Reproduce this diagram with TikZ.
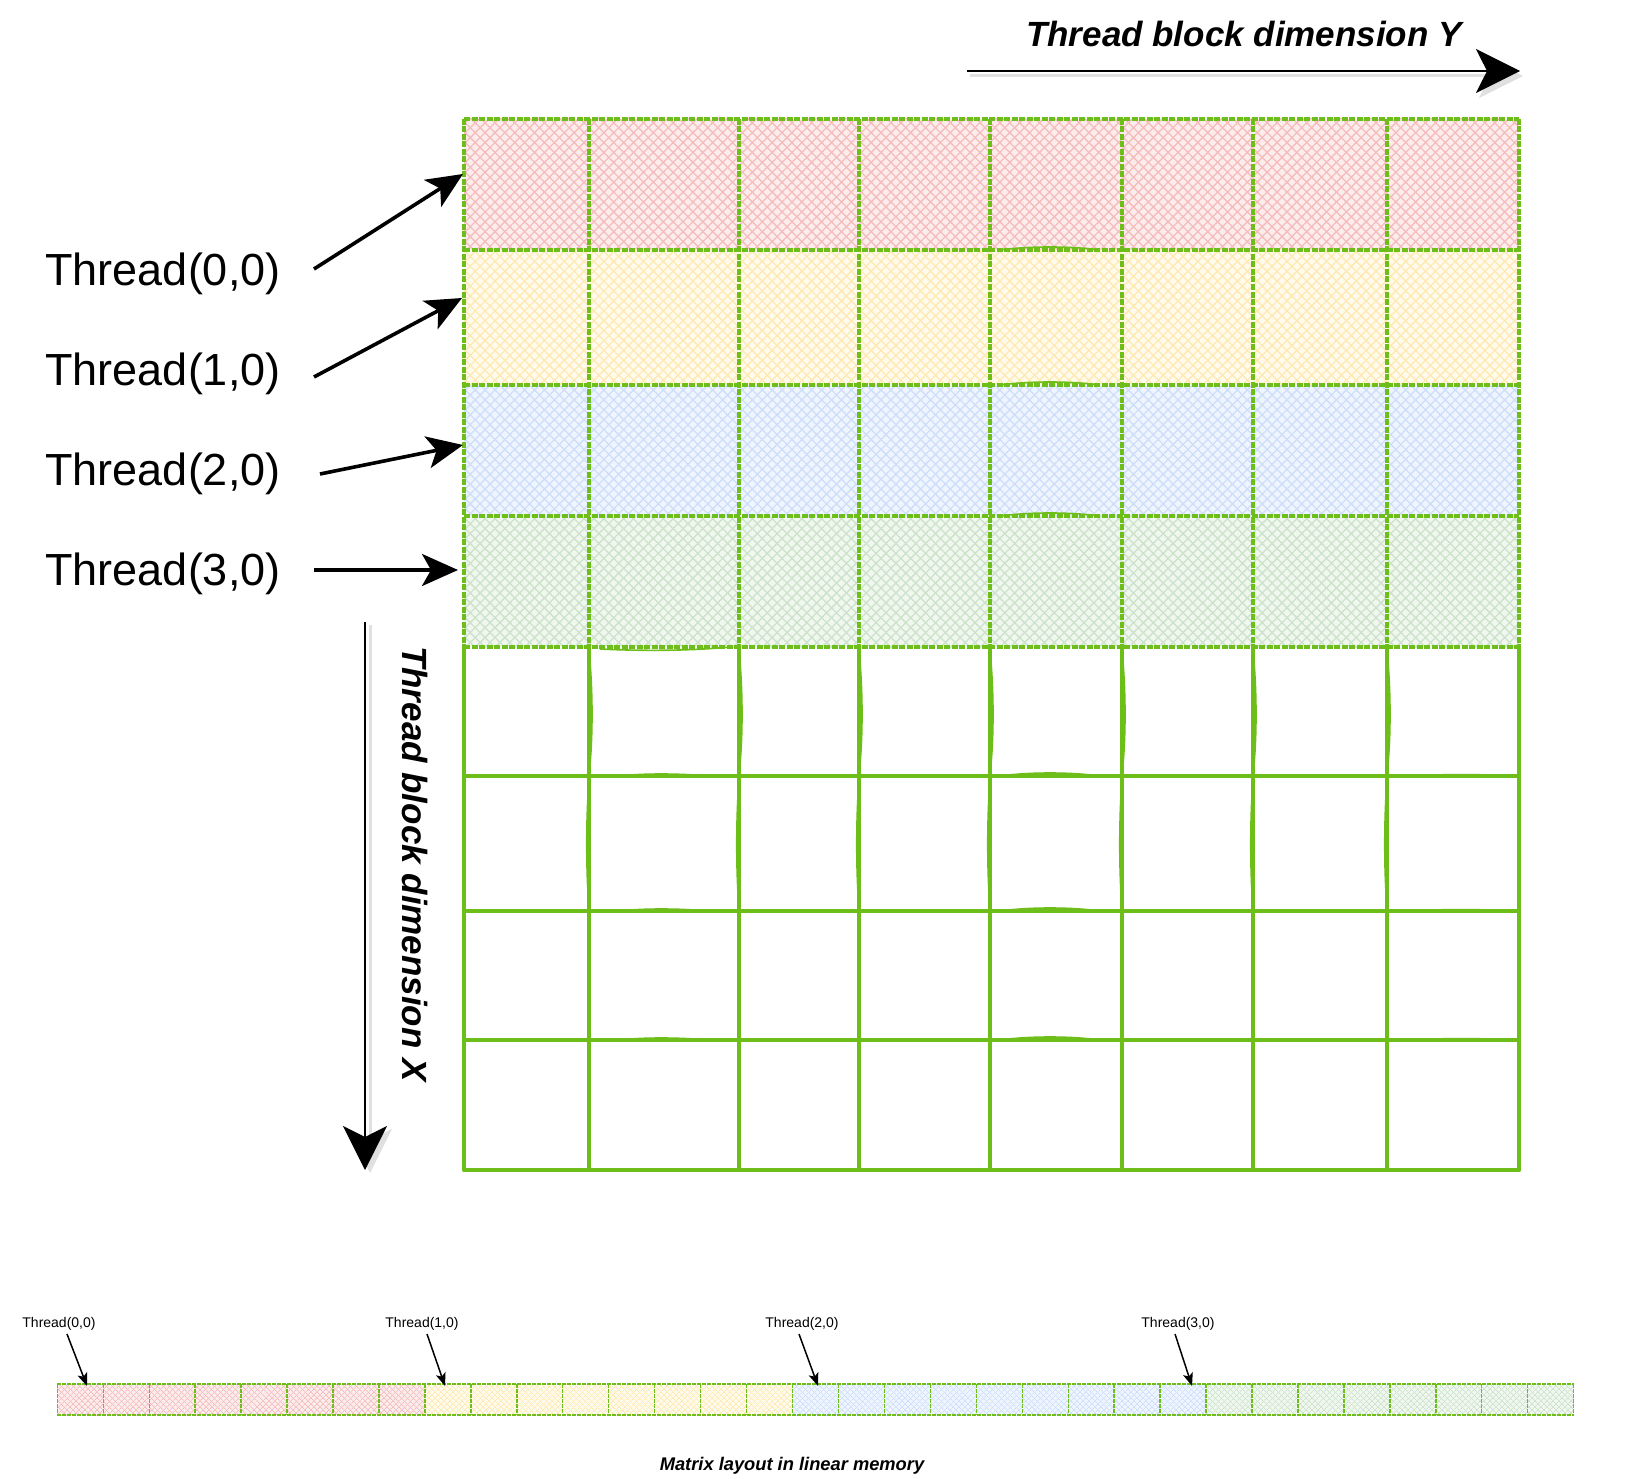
\documentclass[tikz,border=0pt]{standalone}
\usepackage{fontspec}
\setmainfont{Liberation Sans}
\usetikzlibrary{arrows.meta,patterns.meta}
\definecolor{gstroke}{RGB}{110,190,26}
\definecolor{redbase}{RGB}{252,236,236}
\definecolor{redhatch}{RGB}{244,188,188}
\definecolor{yelbase}{RGB}{255,251,236}
\definecolor{yelhatch}{RGB}{255,233,178}
\definecolor{blubase}{RGB}{239,245,254}
\definecolor{bluhatch}{RGB}{206,222,250}
\definecolor{grnbase}{RGB}{240,247,239}
\definecolor{grnhatch}{RGB}{204,226,202}
\tikzset{
  roughline/.style={draw=gstroke, line width=3.6pt, dash pattern=on 6pt off 1.5pt},
  solidline/.style={draw=gstroke, line width=3.6pt, line cap=round},
  sketchline/.style={draw=gstroke, line width=1.6pt},
  stripline/.style={draw=gstroke, line width=1.4pt, dash pattern=on 4pt off 1pt},
  biglabel/.style={font=\fontsize{45}{50}\selectfont, inner sep=0pt},
  axislabel/.style={font=\fontsize{35}{40}\selectfont\bfseries\itshape, inner sep=0pt},
  smalllabel/.style={font=\fontsize{14}{16}\selectfont, inner sep=0pt},
  caplabel/.style={font=\fontsize{18.3}{20}\selectfont\bfseries\itshape, inner sep=0pt},
  threadarrow/.style={line width=3.6pt, -{Stealth[length=36pt,width=32pt,inset=9pt]}},
  axisarrow/.style={line width=2pt, -{Stealth[length=44pt,width=44pt,inset=11pt]}},
  axisshadow/.style={line width=3pt, draw=black!12, -{Stealth[length=44pt,width=44pt,inset=11pt,fill=black!12]}},
  smallarrow/.style={line width=1.5pt, -{Stealth[length=13pt,width=10pt,inset=3pt]}}
}
\newcommand\hatchbox[6]{%
  \fill[#5] (#1,#2) rectangle (#3,#4);
  \fill[pattern={Lines[angle=45,distance=7pt,line width=1.3pt]}, pattern color=#6] (#1,#2) rectangle (#3,#4);
  \fill[pattern={Lines[angle=-45,distance=7pt,line width=1.3pt]}, pattern color=#6] (#1,#2) rectangle (#3,#4);
}
\newcommand\fineboxx[6]{%
  \fill[#5] (#1,#2) rectangle (#3,#4);
  \fill[pattern={Lines[angle=45,distance=4pt,line width=0.7pt]}, pattern color=#6] (#1,#2) rectangle (#3,#4);
  \fill[pattern={Lines[angle=-45,distance=4pt,line width=0.7pt]}, pattern color=#6] (#1,#2) rectangle (#3,#4);
}
\begin{document}
\begin{tikzpicture}[x=1pt,y=-1pt]
\useasboundingbox[fill=white] (0,0) rectangle (1627,1479);

% ---------- coloured rows ----------
\hatchbox{464}{119}{1519}{250}{redbase}{redhatch}
\hatchbox{464}{250}{1519}{385}{yelbase}{yelhatch}
\hatchbox{464}{385}{1519}{516}{blubase}{bluhatch}
\hatchbox{464}{516}{1519}{647}{grnbase}{grnhatch}

% ---------- grid lines, lower (plain) part ----------
\foreach \x in {464,589,739,859,990,1122,1253,1387,1519} {
  \draw[solidline] (\x,647) -- (\x,1170);
}
\foreach \x in {589,739,859,990,1122,1253,1387} {
  \draw[sketchline] (\x,651) .. controls (\x+4,690) and (\x+4,740) .. (\x,774);
  \draw[sketchline] (\x,779) .. controls (\x-3,820) and (\x-3,870) .. (\x,908);
}
\foreach \y in {776,911,1040,1170} {
  \draw[solidline] (464,\y) -- (1519,\y);
}
\foreach \y in {776,911,1040} {
  \draw[sketchline] (610,\y+1) .. controls (640,\y-3) and (680,\y-3) .. (720,\y+1);
  \draw[sketchline] (1000,\y) .. controls (1030,\y-4) and (1070,\y-4) .. (1100,\y);
  \draw[sketchline] (1400,\y+1) .. controls (1430,\y-2) and (1480,\y-2) .. (1510,\y);
}

% ---------- grid lines, upper (coloured) part ----------
\foreach \x in {464,589,739,859,990,1122,1253,1387,1519} {
  \draw[roughline] (\x,119) -- (\x,647);
}
\foreach \y in {119,250,385,516,647} {
  \draw[roughline] (464,\y) -- (1519,\y);
}
\foreach \y in {250,385,516} {
  \draw[sketchline] (1000,\y) .. controls (1030,\y-4) and (1070,\y-4) .. (1100,\y);
}
\draw[sketchline] (600,649) .. controls (640,651) and (690,651) .. (730,647);

% ---------- left labels and arrows ----------
\node[biglabel] (l0) at (163,274) {Thread(0,0)};
\node[biglabel] (l1) at (163,374) {Thread(1,0)};
\node[biglabel] (l2) at (163,474) {Thread(2,0)};
\node[biglabel] (l3) at (163,574) {Thread(3,0)};
\coordinate (a0s) at (314,269); \coordinate (a0e) at (463,174);
\coordinate (a1s) at (314,377); \coordinate (a1e) at (462,298);
\coordinate (a2s) at (320,474); \coordinate (a2e) at (463,445);
\coordinate (a3s) at (314,570); \coordinate (a3e) at (458,570);
\draw[threadarrow] (a0s) -- (a0e);
\draw[threadarrow] (a1s) -- (a1e);
\draw[threadarrow] (a2s) -- (a2e);
\draw[threadarrow] (a3s) -- (a3e);

% ---------- axis arrows ----------
\coordinate (ys) at (967,71); \coordinate (ye) at (1520,71);
\coordinate (ys2) at (970,76); \coordinate (ye2) at (1523,76);
\draw[axisshadow] (ys2) -- (ye2);
\draw[axisarrow] (ys) -- (ye);
\node[axislabel] (ylab) at (1244,34) {Thread block dimension Y};

\coordinate (xs) at (365,622); \coordinate (xe) at (365,1170);
\coordinate (xs2) at (370,625); \coordinate (xe2) at (370,1173);
\draw[axisshadow] (xs2) -- (xe2);
\draw[axisarrow] (xs) -- (xe);
\node[axislabel, rotate=-90] (xlab) at (415,864) {Thread block dimension X};

% ---------- linear memory strip ----------
\foreach \i in {0,...,7} {
  \pgfmathsetmacro\xa{57.3+\i*45.95}\pgfmathsetmacro\xb{\xa+45.95}
  \fineboxx{\xa}{1384}{\xb}{1415}{redbase}{redhatch}
}
\foreach \i in {8,...,15} {
  \pgfmathsetmacro\xa{57.3+\i*45.95}\pgfmathsetmacro\xb{\xa+45.95}
  \fineboxx{\xa}{1384}{\xb}{1415}{yelbase}{yelhatch}
}
\foreach \i in {16,...,24} {
  \pgfmathsetmacro\xa{57.3+\i*45.95}\pgfmathsetmacro\xb{\xa+45.95}
  \fineboxx{\xa}{1384}{\xb}{1415}{blubase}{bluhatch}
}
\foreach \i in {25,...,32} {
  \pgfmathsetmacro\xa{57.3+\i*45.95}\pgfmathsetmacro\xb{\xa+45.95}
  \fineboxx{\xa}{1384}{\xb}{1415}{grnbase}{grnhatch}
}
\foreach \i in {0,...,33} {
  \pgfmathsetmacro\xa{57.3+\i*45.95}
  \draw[stripline] (\xa,1384) -- (\xa,1415);
}
\draw[stripline] (57.3,1384) -- (1573.7,1384);
\draw[stripline] (57.3,1415) -- (1573.7,1415);

\node[smalllabel] (s0) at (59,1324) {Thread(0,0)};
\node[smalllabel] (s1) at (422,1324) {Thread(1,0)};
\node[smalllabel] (s2) at (802,1324) {Thread(2,0)};
\node[smalllabel] (s3) at (1178,1324) {Thread(3,0)};
\coordinate (b0s) at (67,1334);   \coordinate (b0e) at (87,1386);
\coordinate (b1s) at (427,1334);  \coordinate (b1e) at (445,1386);
\coordinate (b2s) at (799,1334);  \coordinate (b2e) at (818,1386);
\coordinate (b3s) at (1175,1334); \coordinate (b3e) at (1192,1386);
\draw[smallarrow] (b0s) -- (b0e);
\draw[smallarrow] (b1s) -- (b1e);
\draw[smallarrow] (b2s) -- (b2e);
\draw[smallarrow] (b3s) -- (b3e);

\node[caplabel] (cap) at (792,1466) {Matrix layout in linear memory};
\end{tikzpicture}
\end{document}
